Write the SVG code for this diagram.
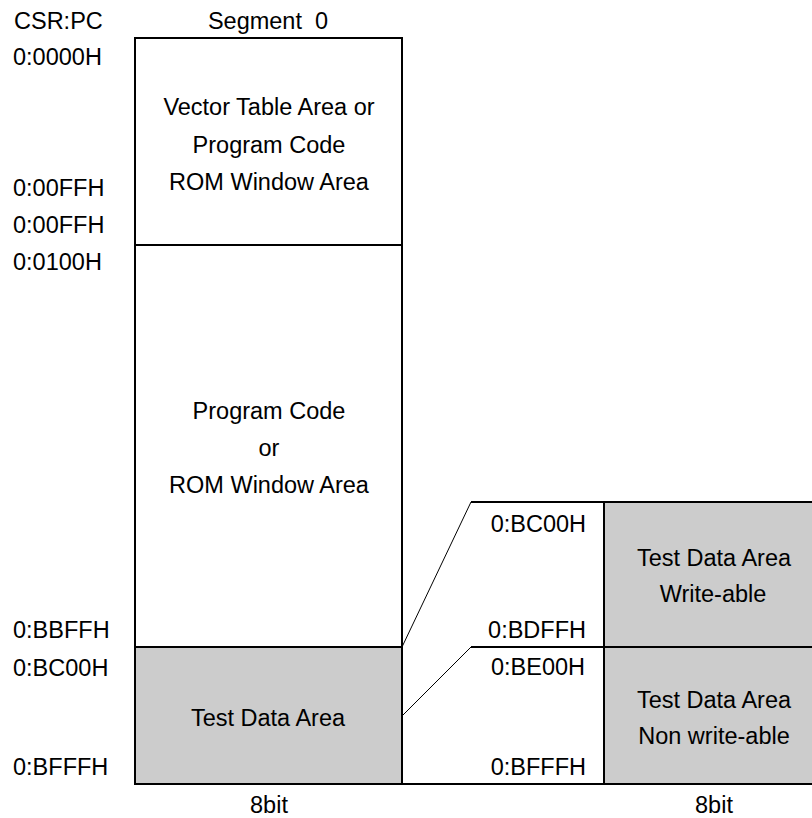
<svg xmlns="http://www.w3.org/2000/svg" width="812" height="818" viewBox="0 0 812 818">
<style>
text{font-family:"Liberation Sans",Arial,sans-serif;font-size:23.5px;fill:#000}
.c{text-anchor:middle}
.r{text-anchor:end}
.box{fill:#fff;stroke:#000;stroke-width:2}
.gray{fill:#cccccc;stroke:#000;stroke-width:2}
.thick{stroke:#000;stroke-width:2;fill:none}
.thin{stroke:#000;stroke-width:1;fill:none}
</style>
<rect width="812" height="818" fill="#fff"/>
<g id="headers">
<text x="14" y="29">CSR:PC</text>
<text class="c" x="268" y="29">Segment&#160; 0</text>
<text class="c" x="269" y="813">8bit</text>
<text class="c" x="714" y="813">8bit</text>
</g>
<g id="addresses-left">
<text x="13" y="65">0:0000H</text>
<text x="13" y="196">0:00FFH</text>
<text x="13" y="233">0:00FFH</text>
<text x="13" y="270">0:0100H</text>
<text x="13" y="638">0:BBFFH</text>
<text x="13" y="676">0:BC00H</text>
<text x="13" y="775">0:BFFFH</text>
</g>
<g id="vector-area">
<rect class="box" x="135" y="38" width="267" height="207"/>
<text class="c" x="269" y="115">Vector Table Area or</text>
<text class="c" x="269" y="153">Program Code</text>
<text class="c" x="269" y="190">ROM Window Area</text>
</g>
<g id="program-area">
<rect class="box" x="135" y="245" width="267" height="402"/>
<text class="c" x="269" y="419">Program Code</text>
<text class="c" x="269" y="456">or</text>
<text class="c" x="269" y="493">ROM Window Area</text>
</g>
<g id="test-area">
<rect class="gray" x="135" y="647" width="267" height="137"/>
<text class="c" x="268" y="726">Test Data Area</text>
</g>
<g id="test-writeable">
<rect class="gray" x="604" y="502" width="212" height="145"/>
<text class="c" x="714" y="566">Test Data Area</text>
<text class="c" x="713" y="602">Write-able</text>
</g>
<g id="test-nonwriteable">
<rect class="gray" x="604" y="647" width="212" height="137"/>
<text class="c" x="714" y="708">Test Data Area</text>
<text class="c" x="714" y="744">Non write-able</text>
</g>
<g id="addresses-right">
<text class="r" x="586" y="532">0:BC00H</text>
<text class="r" x="586" y="638">0:BDFFH</text>
<text class="r" x="585" y="675">0:BE00H</text>
<text class="r" x="586" y="775">0:BFFFH</text>
</g>
<g id="connectors">
<line class="thick" x1="471" y1="502" x2="604" y2="502"/>
<line class="thick" x1="471" y1="647" x2="604" y2="647"/>
<line class="thick" x1="402" y1="784" x2="604" y2="784"/>
<line class="thin" x1="402" y1="647" x2="471" y2="502"/>
<line class="thin" x1="402" y1="716" x2="471" y2="647"/>
</g>
</svg>
